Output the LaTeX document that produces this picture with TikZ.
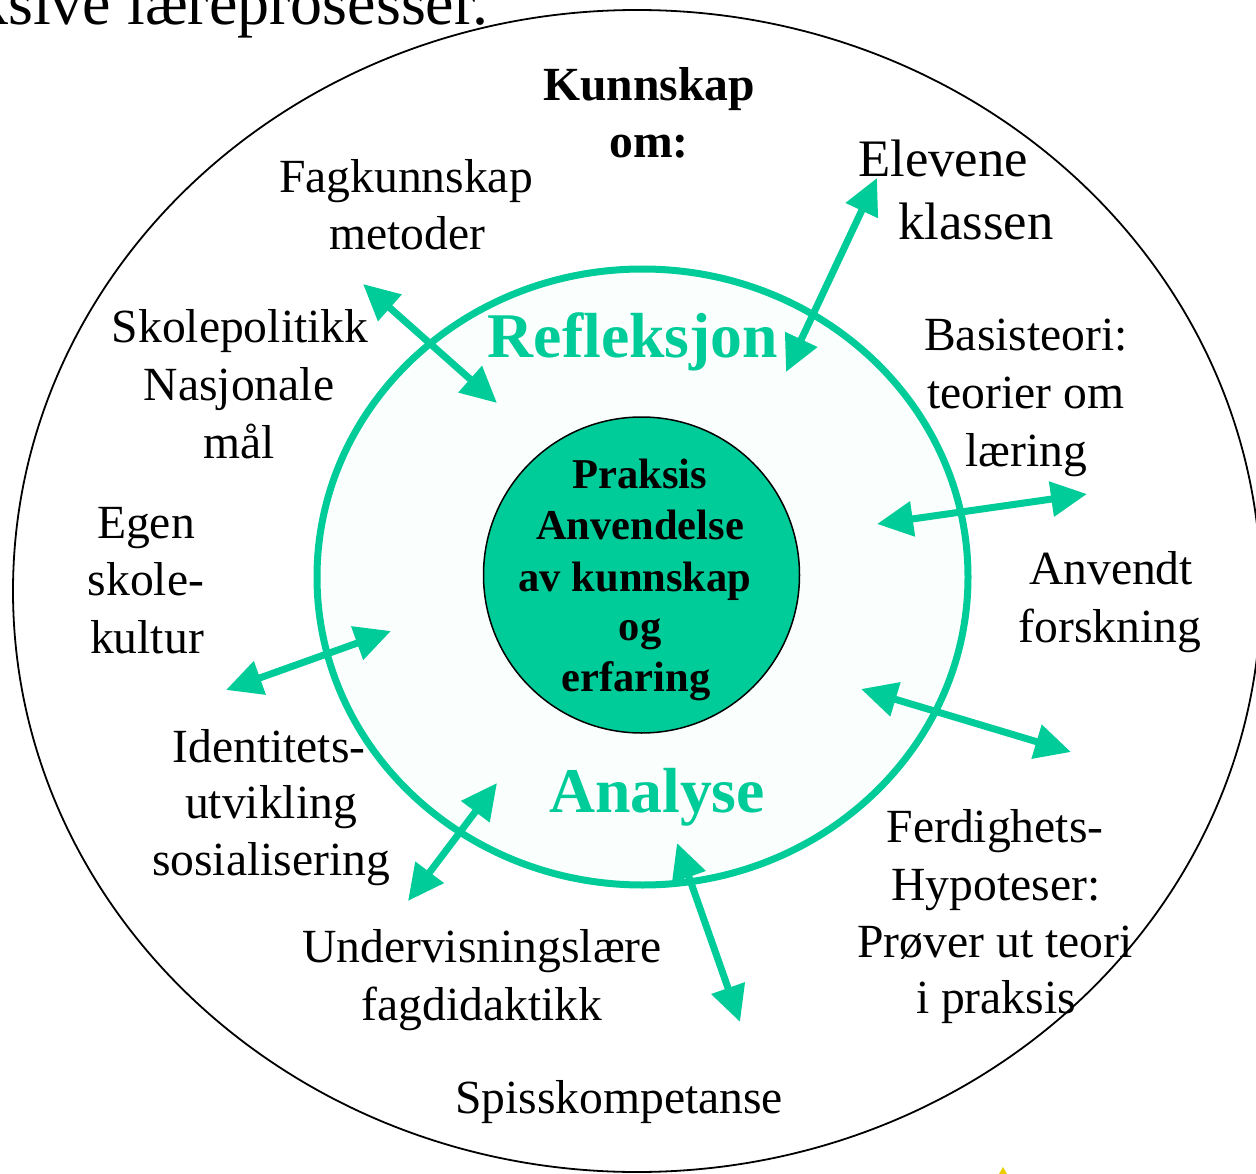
\documentclass[tikz,border=0pt]{standalone}
\usepackage{fontspec}
\setmainfont{Liberation Serif}
\usetikzlibrary{arrows.meta}
\definecolor{tq}{RGB}{0,204,153}
\definecolor{starY}{RGB}{235,205,0}
\tikzset{
  lbl/.style={font=\fontsize{47.6}{57}\selectfont, anchor=base, inner sep=0pt},
  lbllarge/.style={font=\fontsize{52.7}{62}\selectfont, anchor=base, inner sep=0pt},
  blbl/.style={font=\fontsize{47.6}{57}\selectfont\bfseries, anchor=base, inner sep=0pt},
  bigword/.style={font=\fontsize{63.7}{70}\selectfont\bfseries, text=tq, anchor=base, inner sep=0pt},
  core/.style={font=\fontsize{42.5}{51}\selectfont\bfseries, anchor=base, inner sep=0pt},
  dbl/.style={draw=tq, line width=7pt, {Triangle[length=36pt,width=34pt]}-{Triangle[length=36pt,width=34pt]}},
}
\begin{document}
\begin{tikzpicture}[x=1pt,y=-1pt]
\useasboundingbox (0,0) rectangle (1256,1174);
\clip (0,0) rectangle (1256,1174);
\fill[white] (0,0) rectangle (1256,1174);

% title (cut off at top-left, as in the reference)
\node[anchor=base west, inner sep=0pt, font=\fontsize{64}{70}\selectfont] (title) at (-24,25) {ksive læreprosesser.};

% outer ellipse
\draw[line width=1.8pt] (637,591) ellipse [x radius=624pt, y radius=581pt];
% middle ring
\draw[draw=tq, fill=tq!2, line width=7pt] (642.5,577) ellipse [x radius=325.5pt, y radius=308pt];
% core circle
\node[circle, draw=black, line width=1.5pt, fill=tq, minimum size=316pt, inner sep=0pt] (core) at (641.5,575) {};

% core text
\node[core] (c1) at (640,488) {Praksis};
\node[core] (c2) at (640,539) {Anvendelse};
\node[core] (c3) at (635,591) {av kunnskap};
\node[core] (c4) at (640,640) {og};
\node[core] (c5) at (636,691) {erfaring};

% ring words
\node[bigword] (refl) at (633,357) {Refleksjon};
\node[bigword] (anal) at (657,812) {Analyse};

% labels
\node[blbl] (k1) at (649,101) {Kunnskap};
\node[blbl] (k2) at (649,158) {om:};
\node[lbl] (f1) at (406,193) {Fagkunnskap};
\node[lbl] (f2) at (407,250) {metoder};
\node[lbllarge] (e1) at (943,177) {Elevene};
\node[lbllarge] (e2) at (976,240) {klassen};
\node[lbl] (s1) at (240,342) {Skolepolitikk};
\node[lbl] (s2) at (239,400) {Nasjonale};
\node[lbl] (s3) at (239,458) {mål};
\node[lbl] (b1) at (1026,351) {Basisteori:};
\node[lbl] (b2) at (1026,408) {teorier om};
\node[lbl] (b3) at (1026,466) {læring};
\node[lbl] (g1) at (146,538) {Egen};
\node[lbl] (g2) at (146,595) {skole-};
\node[lbl] (g3) at (147,653) {kultur};
\node[lbl] (v1) at (1111,584) {Anvendt};
\node[lbl] (v2) at (1110,642) {forskning};
\node[lbl] (i1) at (269,762) {Identitets-};
\node[lbl] (i2) at (271,818) {utvikling};
\node[lbl] (i3) at (271,875) {sosialisering};
\node[lbl] (h1) at (995,842) {Ferdighets-};
\node[lbl] (h2) at (996,900) {Hypoteser:};
\node[lbl] (h3) at (995,957) {Prøver ut teori};
\node[lbl] (h4) at (996,1013) {i praksis};
\node[lbl] (u1) at (482,962) {Undervisningslære};
\node[lbl] (u2) at (482,1020) {fagdidaktikk};
\node[lbl] (sp) at (619,1113) {Spisskompetanse};

% arrow end points
\coordinate (a1s) at (363,284);  \coordinate (a1e) at (497,403);
\coordinate (a2s) at (877,178);  \coordinate (a2e) at (786,372);
\coordinate (a3s) at (877,524);  \coordinate (a3e) at (1087,494);
\coordinate (a4s) at (226,690);  \coordinate (a4e) at (391,631);
\coordinate (a5s) at (861,689);  \coordinate (a5e) at (1071,752);
\coordinate (a6s) at (408,901);  \coordinate (a6e) at (497,783);
\coordinate (a7s) at (677,843);  \coordinate (a7e) at (740,1022);

\draw[dbl] (a1s) -- (a1e);
\draw[dbl] (a2s) -- (a2e);
\draw[dbl] (a3s) -- (a3e);
\draw[dbl] (a4s) -- (a4e);
\draw[dbl] (a5s) -- (a5e);
\draw[dbl] (a6s) -- (a6e);
\draw[dbl] (a7s) -- (a7e);

% small yellow star tip at the bottom edge
\fill[starY] (1003,1167) -- (999,1174) -- (1007,1174) -- cycle;
\end{tikzpicture}
\end{document}
